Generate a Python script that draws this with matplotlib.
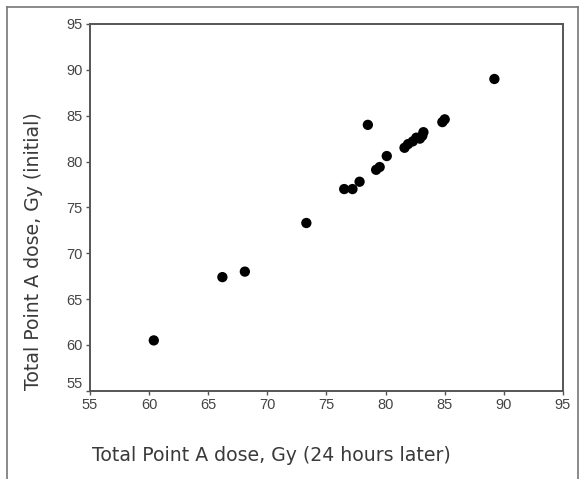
import matplotlib.pyplot as plt
from matplotlib.lines import Line2D

plt.rcParams['font.family'] = ['Liberation Sans', 'DejaVu Sans']

# Total point A dose, Gy
dose_24h = [60.4, 66.2, 68.1, 73.3, 76.5, 77.2, 77.8, 78.5, 79.2, 79.5, 80.1,
            81.6, 81.9, 82.3, 82.6, 82.9, 83.1, 83.2, 84.8, 85.0, 89.2]
dose_initial = [60.5, 67.4, 68.0, 73.3, 77.0, 77.0, 77.8, 84.0, 79.1, 79.4, 80.6,
                81.5, 81.9, 82.2, 82.6, 82.5, 82.8, 83.2, 84.3, 84.6, 89.0]
ticks = [55, 60, 65, 70, 75, 80, 85, 90, 95]

fig = plt.figure(figsize=(5.84, 4.79), dpi=100)
ax = fig.add_axes([0.154, 0.184, 0.81, 0.766])

ax.scatter(dose_24h, dose_initial, s=55, color='black', edgecolors='none', zorder=3)

ax.set_xlim(55, 95)
ax.set_ylim(55, 95)
ax.set_xticks(ticks)
ax.set_yticks(ticks)
ax.tick_params(direction='out', length=3, width=1, colors='#555555',
               labelsize=10.5, labelcolor='#444444', pad=2)
for s in ax.spines.values():
    s.set_color('#555555')
    s.set_linewidth(1.4)

# the "55" on y axis sits a little higher in the original
ylabels = ax.get_yticklabels()
ylabels[0].set_va('bottom')

fig.text(0.464, 0.050, 'Total Point A dose, Gy (24 hours later)', ha='center',
         va='center', fontsize=13.6, color='#3a3a3a', family='DejaVu Sans')
fig.text(0.057, 0.476, 'Total Point A dose, Gy (initial)', ha='center',
         va='center', rotation=90, fontsize=13.6, color='#3a3a3a', family='DejaVu Sans')

# outer frame (open at the bottom)
frame_kw = dict(color='#777777', linewidth=1.2, transform=fig.transFigure)
fig.add_artist(Line2D([0.012, 0.012], [0.0, 0.986], **frame_kw))
fig.add_artist(Line2D([0.012, 0.99], [0.986, 0.986], **frame_kw))
fig.add_artist(Line2D([0.99, 0.99], [0.0, 0.986], **frame_kw))

fig.savefig('out.png', dpi=100)
